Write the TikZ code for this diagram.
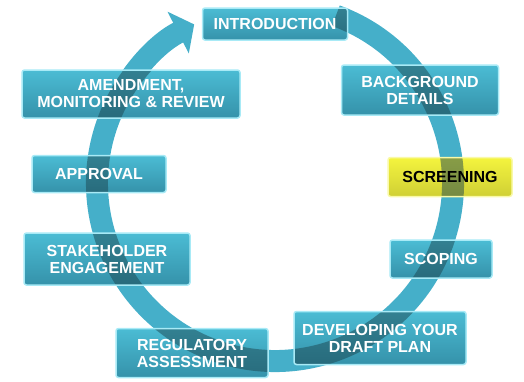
\documentclass[tikz,border=0pt]{standalone}
\usepackage{fontspec}
\setmainfont{Liberation Sans}
\usetikzlibrary{arrows.meta}
\definecolor{boxteal}{HTML}{4BBCD4}
\definecolor{boxdark}{HTML}{3592AA}
\definecolor{boxrim}{HTML}{A8EAF6}
\definecolor{ringteal}{HTML}{45AFC9}
\definecolor{scryellow}{HTML}{F4F43E}
\definecolor{scrrim}{HTML}{F9F9A8}
\newcommand{\cyclearc}{(hub) ++(-70:178) arc[start angle=-70, end angle=243, radius=178]}
\begin{document}
\begin{tikzpicture}[x=1pt,y=-1pt,
  stage/.style={rectangle, draw=boxrim, line width=1.5pt, rounded corners=2.5pt,
    fill=boxteal, text=white, upper/.initial=boxteal, lower/.initial=boxdark,
    font=\fontsize{16}{17}\selectfont\bfseries, align=center, inner sep=0pt,
    path picture={
      \shade[top color=\pgfkeysvalueof{/tikz/upper}, bottom color=\pgfkeysvalueof{/tikz/lower}]
        (path picture bounding box.south west) rectangle (path picture bounding box.north east);
      \draw[ringteal!40!black, line width=22pt, opacity=0.5] \cyclearc;}},
  current/.style={stage, draw=scrrim, upper=scryellow, lower=scryellow!85!black, text=black},
  ring/.style={draw=ringteal, line width=22pt, -{Triangle[length=18pt,width=46pt]}}]
\useasboundingbox (0,0) rectangle (524,381);
% the cycle, under the stages
\coordinate (hub) at (275,183);
\draw[ring] \cyclearc;
% stages, clockwise from the top
\node[stage, minimum width=145, minimum height=32] (intro) at (275,24) {INTRODUCTION};
\node[stage, minimum width=157, minimum height=50] (background) at (420,90) {BACKGROUND\\DETAILS};
\node[current, minimum width=124, minimum height=39] (screening) at (450,177) {SCREENING};
\node[stage, minimum width=102, minimum height=38] (scoping) at (441,259) {SCOPING};
\node[stage, minimum width=172, minimum height=53] (draft) at (380,338) {DEVELOPING YOUR\\DRAFT PLAN};
\node[stage, minimum width=152, minimum height=49] (regulatory) at (192,353) {REGULATORY\\ASSESSMENT};
\node[stage, minimum width=166, minimum height=52] (stakeholder) at (107,259) {STAKEHOLDER\\ENGAGEMENT};
\node[stage, minimum width=134, minimum height=37] (approval) at (99,174) {APPROVAL};
\node[stage, minimum width=218, minimum height=48] (amendment) at (131,94) {AMENDMENT,\\MONITORING \& REVIEW};
\end{tikzpicture}
\end{document}
